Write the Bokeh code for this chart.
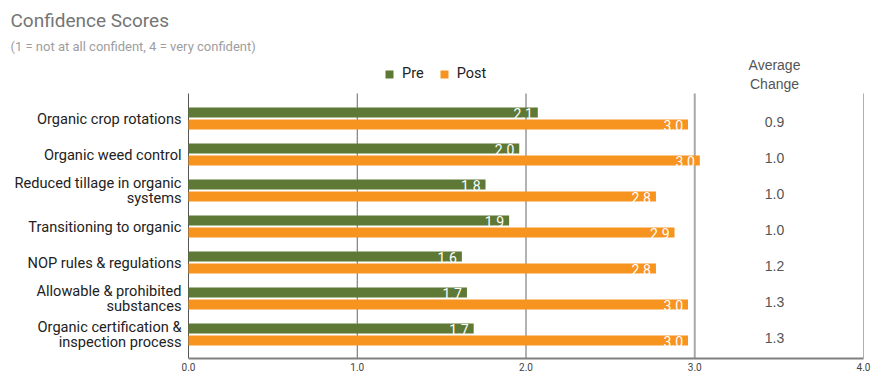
from bokeh.plotting import figure
from bokeh.models import Range1d, FixedTicker, ColumnDataSource, Legend, LegendItem
from bokeh.core.properties import value
from bokeh.embed import file_html
from bokeh.resources import INLINE

categories = [
    ["Organic crop rotations"],
    ["Organic weed control"],
    ["Reduced tillage in organic", "systems"],
    ["Transitioning to organic"],
    ["NOP rules & regulations"],
    ["Allowable & prohibited", "substances"],
    ["Organic certification &", "inspection process"],
]
pre = [2.07, 1.96, 1.76, 1.90, 1.62, 1.65, 1.69]
post = [2.96, 3.03, 2.77, 2.88, 2.77, 2.96, 2.96]
pre_labels = ["2.1", "2.0", "1.8", "1.9", "1.6", "1.7", "1.7"]
post_labels = ["3.0", "3.0", "2.8", "2.9", "2.8", "3.0", "3.0"]
avg_change = ["0.9", "1.0", "1.0", "1.0", "1.2", "1.3", "1.3"]
x_ticks = [0, 1, 2, 3, 4]
x_tick_labels = ["0.0", "1.0", "2.0", "3.0", "4.0"]
title = "Confidence Scores"
subtitle = "(1 = not at all confident, 4 = very confident)"
change_header = ["Average", "Change"]

GREEN = "#5d7935"
ORANGE = "#f7941f"
rows = list(range(len(categories)))

# layout constants (pixels)
W, H = 877, 380
X0_PX, UNIT_PX = 188, 168.75   # x=0 position and pixels per unit
ROW0_PX, ROW_PX = 118, 36      # first row centre and row pitch
AXIS_PX = 358
TOP_GRID_PX = 93


def xd(px):
    return (px - X0_PX) / UNIT_PX


def yd(py):
    return (py - ROW0_PX) / ROW_PX


PX = 1 / ROW_PX

p = figure(width=W, height=H, output_backend="svg", toolbar_location=None,
           x_range=Range1d(xd(0), xd(W)), y_range=Range1d(yd(AXIS_PX), yd(0)),
           min_border_left=0, min_border_right=0, min_border_top=0,
           min_border_bottom=H - AXIS_PX)
p.outline_line_color = None
p.background_fill_color = "white"
p.border_fill_color = "white"
p.yaxis.visible = False
p.ygrid.visible = False
p.xgrid.visible = False

p.xaxis.ticker = FixedTicker(ticks=x_ticks)
p.xaxis.bounds = (x_ticks[0], x_ticks[-1])
p.xaxis.major_label_overrides = {t: l for t, l in zip(x_ticks, x_tick_labels)}
p.xaxis.major_tick_line_color = None
p.xaxis.major_tick_out = 0
p.xaxis.major_tick_in = 0
p.xaxis.minor_tick_line_color = None
p.xaxis.minor_tick_out = 0
p.xaxis.axis_line_color = "#808080"
p.xaxis.axis_line_width = 2
p.xaxis.major_label_text_font = "Roboto"
p.xaxis.major_label_text_font_size = "10px"
p.xaxis.major_label_text_color = "#444444"
p.xaxis.major_label_standoff = 4

# vertical gridlines / borders
grid_src = ColumnDataSource(dict(
    x=x_ticks,
    color=["#555555", "#666666", "#666666", "#a8a8a8", "#b0b0b0"],
    width=[1, 1, 1, 2, 1],
))
p.segment(x0="x", x1="x", y0=yd(TOP_GRID_PX), y1=yd(AXIS_PX), source=grid_src,
          line_color="color", line_width="width")

src = ColumnDataSource(dict(
    y_pre=[r - 6 * PX for r in rows],
    y_post=[r + 6 * PX for r in rows],
    pre=pre, post=post, pre_l=pre_labels, post_l=post_labels,
))
r_pre = p.hbar(y="y_pre", right="pre", left=0, height=10 * PX, source=src,
               fill_color=GREEN, line_color=None)
r_post = p.hbar(y="y_post", right="post", left=0, height=10 * PX, source=src,
                fill_color=ORANGE, line_color=None)

p.text(x="pre", y="y_pre", text="pre_l", source=src, x_offset=-5, y_offset=1,
       text_align="right", text_baseline="middle", text_color="white",
       text_font=value("Roboto"), text_font_size="14px")
p.text(x="post", y="y_post", text="post_l", source=src, x_offset=-5, y_offset=1,
       text_align="right", text_baseline="middle", text_color="white",
       text_font=value("Roboto"), text_font_size="14px")

# category labels
cx, cy, ct = [], [], []
for r, lines in zip(rows, categories):
    n = len(lines)
    for i, line in enumerate(lines):
        cx.append(xd(X0_PX - 7))
        cy.append(r + (i - (n - 1) / 2) * 15 * PX)
        ct.append(line)
p.text(x=cx, y=cy, text=ct, text_align="right", text_baseline="middle",
       text_font=value("Roboto"), text_font_size="14.6px", text_color="#222222")

# average change column
col_x = xd(774)
p.text(x=[col_x, col_x], y=[yd(64), yd(83)], text=change_header,
       text_align="center", text_baseline="middle", text_font=value("Liberation Sans"),
       text_font_size="14px", text_color="#555555")
p.text(x=[col_x] * len(rows), y=[r + 3 * PX for r in rows], text=avg_change,
       text_align="center", text_baseline="middle", text_font=value("Liberation Sans"),
       text_font_size="14px", text_color="#555555")

# title and subtitle
p.text(x=[xd(10)], y=[yd(20)], text=[title], text_align="left",
       text_baseline="middle", text_font=value("Roboto"),
       text_font_size="19px", text_color="#757575")
p.text(x=[xd(10)], y=[yd(45.5)], text=[subtitle], text_align="left",
       text_baseline="middle", text_font=value("Roboto"),
       text_font_size="13px", text_color="#9e9e9e")

legend = Legend(items=[LegendItem(label="Pre", renderers=[r_pre]),
                       LegendItem(label="Post", renderers=[r_post])],
                orientation="horizontal",
                glyph_width=10, glyph_height=10, label_standoff=8, spacing=15,
                padding=0, margin=0, border_line_color=None, background_fill_alpha=0,
                label_text_font="Roboto", label_text_font_size="14.5px",
                label_text_color="#222222", label_height=14)
legend.location = (384, AXIS_PX - 82)
p.add_layout(legend, "center")

open("out.html", "w").write(file_html(p, INLINE))
